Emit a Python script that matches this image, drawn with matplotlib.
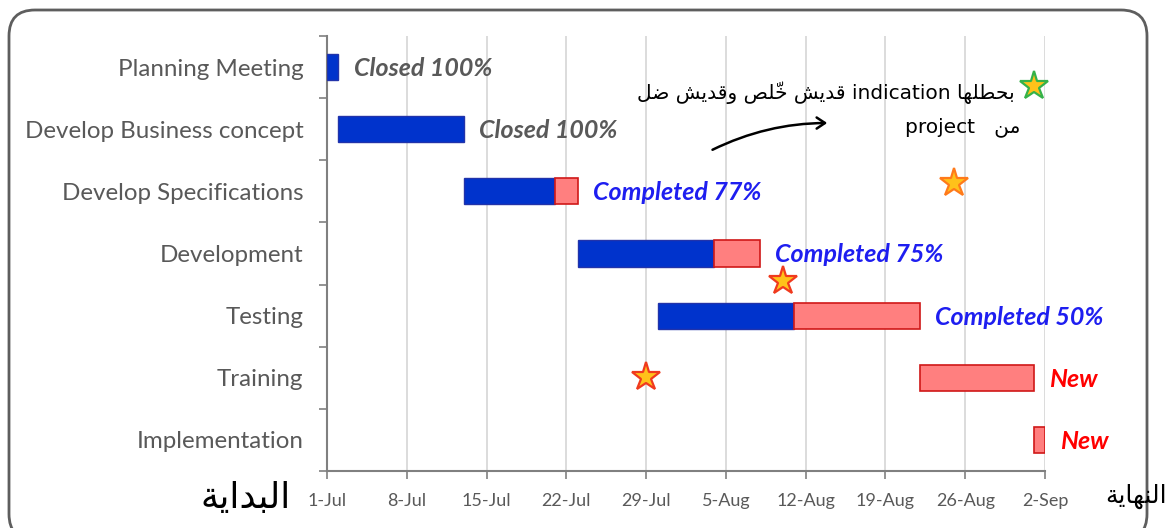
import matplotlib
matplotlib.use("Agg")
import matplotlib.pyplot as plt
import matplotlib.dates as mdates
from matplotlib.patches import FancyBboxPatch, FancyArrowPatch
from matplotlib.transforms import IdentityTransform
import pandas as pd
import numpy as np

# ---------------- data ----------------
tasks = ["Planning Meeting", "Develop Business concept", "Develop Specifications",
         "Development", "Testing", "Training", "Implementation"]
start_dates = ["2013-07-01", "2013-07-02", "2013-07-13", "2013-07-23",
               "2013-07-30", "2013-08-22", "2013-09-01"]
days_done = [1, 11, 8, 12, 12, 0, 0]
days_left = [0, 0, 2, 4, 11, 10, 1]
status_labels = ["Closed 100%", "Closed 100%", "Completed 77%", "Completed 75%",
                 "Completed 50%", "New", "New"]
status_colors = ["#595959", "#595959", "#1E1EF0", "#1E1EF0", "#1E1EF0", "#FF0000", "#FF0000"]
tick_labels = ["1-Jul", "8-Jul", "15-Jul", "22-Jul", "29-Jul", "5-Aug",
               "12-Aug", "19-Aug", "26-Aug", "2-Sep"]
star_dates = ["2013-09-01", "2013-08-25", "2013-08-10", "2013-07-29"]
star_rows = [0.3, 1.87, 3.45, 4.98]
star_edges = ["#35B249", "#FF7A1A", "#F03A1E", "#F03A1E"]

# Arabic words written in presentation forms (visual order) so they render joined
arabic_start = "\uFE94\uFEF3\uFE8D\uFEAA\uFE92\uFEDF\uFE8D"      # البداية
arabic_end = "\uFE94\uFEF3\uFE8E\uFEEC\uFEE8\uFEDF\uFE8D"        # النهاية
note_line1 = ("\uFEDE\uFEBF \uFEB6\uFEF3\uFEAA\uFED7\uFEED \uFEBA\uFEE0\u0651\uFEA7 "
              "\uFEB6\uFEF3\uFEAA\uFED7 indication \uFE8E\uFEEC\uFEE0\uFEC4\uFEA4\uFE91")
note_line2 = "project   \uFEE6\uFEE3"

# ---------------- figure ----------------
W, H, DPI = 1170, 528, 100
fig = plt.figure(figsize=(W / DPI, H / DPI), dpi=DPI)
fig.patch.set_facecolor("white")

# rounded outer frame (pixel coordinates)
frame = FancyBboxPatch((9, -12), 1138, 530, boxstyle="round,pad=0,rounding_size=26",
                       transform=IdentityTransform(), fill=False,
                       edgecolor="#5E5E5E", linewidth=2.0, zorder=0)
fig.patches.append(frame)

ax = fig.add_axes([327 / W, 1 - 471 / H, (1045 - 327) / W, (471 - 36) / H])

y = np.arange(len(tasks))
x_start = mdates.date2num(pd.to_datetime(start_dates))
done = np.array(days_done, dtype=float)
left = np.array(days_left, dtype=float)
bar_h = 0.42

for i in range(len(tasks)):
    if done[i] > 0:
        ax.barh(y[i], done[i], left=x_start[i], height=bar_h, color="#0033CC",
                edgecolor="#2233AA", linewidth=1.0, zorder=3)
    if left[i] > 0:
        ax.barh(y[i], left[i], left=x_start[i] + done[i], height=bar_h, color="#FF7F7F",
                edgecolor="#D01818", linewidth=1.2, zorder=3)
    ax.annotate(status_labels[i], xy=(x_start[i] + done[i] + left[i], y[i]),
                xytext=(11, -1), textcoords="offset points", ha="left", va="center",
                fontsize=18, fontweight="bold", fontstyle="italic",
                color=status_colors[i], family=["Lato", "DejaVu Sans"], zorder=4)

# stars
sx = mdates.date2num(pd.to_datetime(star_dates))
for xs, ys, ec in zip(sx, star_rows, star_edges):
    ax.plot(xs, ys, marker="*", markersize=21, markerfacecolor="#FFC21A",
            markeredgecolor=ec, markeredgewidth=1.6, linestyle="none", zorder=5,
            clip_on=False)

# axes styling
tick_pos = mdates.date2num(pd.to_datetime([t + "-2013" for t in tick_labels], format="%d-%b-%Y"))
ax.set_xlim(tick_pos[0], tick_pos[-1])
ax.set_ylim(len(tasks) - 0.5, -0.5)
ax.set_xticks(tick_pos)
ax.set_xticklabels(tick_labels, fontsize=13, color="#595959", family=["Lato", "DejaVu Sans"])
ax.set_yticks(y)
ax.set_yticklabels(tasks, fontsize=17.4, color="#595959", family=["Lato", "DejaVu Sans"])
ax.set_yticks(np.arange(-0.5, len(tasks)), minor=True)
ax.tick_params(axis="y", which="major", length=0, pad=17)
ax.tick_params(axis="y", which="minor", length=6, width=1.2, color="#808080", direction="out")
ax.tick_params(axis="x", which="major", length=6, width=1.2, color="#808080", direction="out", pad=10)
ax.grid(axis="x", color="#D9D9D9", linewidth=1.3, zorder=0)
ax.set_axisbelow(True)
for s in ["top", "right"]:
    ax.spines[s].set_visible(False)
for s in ["left", "bottom"]:
    ax.spines[s].set_color("#808080")
    ax.spines[s].set_linewidth(1.5)

# handwritten-style notes
fig.text(1015 / W, 1 - 93 / H, note_line1, ha="right", va="center", fontsize=14.5,
         color="black", family=["DejaVu Sans"])
fig.text(1020 / W, 1 - 127 / H, note_line2, ha="right", va="center", fontsize=14.5,
         color="black", family=["DejaVu Sans"])
fig.text(291 / W, 1 - 498 / H, arabic_start, ha="right", va="center", fontsize=26,
         color="black", family=["DejaVu Sans"])
fig.text(1167 / W, 1 - 496 / H, arabic_end, ha="right", va="center", fontsize=18,
         color="black", family=["DejaVu Sans"])
fig.add_artist(FancyArrowPatch(
    (710 / W, 1 - 151 / H), (830 / W, 1 - 123 / H), transform=fig.transFigure,
    connectionstyle="arc3,rad=-0.12", arrowstyle="->,head_length=6,head_width=4",
    color="black", linewidth=1.8, mutation_scale=1))

fig.savefig("out.png", dpi=DPI)
